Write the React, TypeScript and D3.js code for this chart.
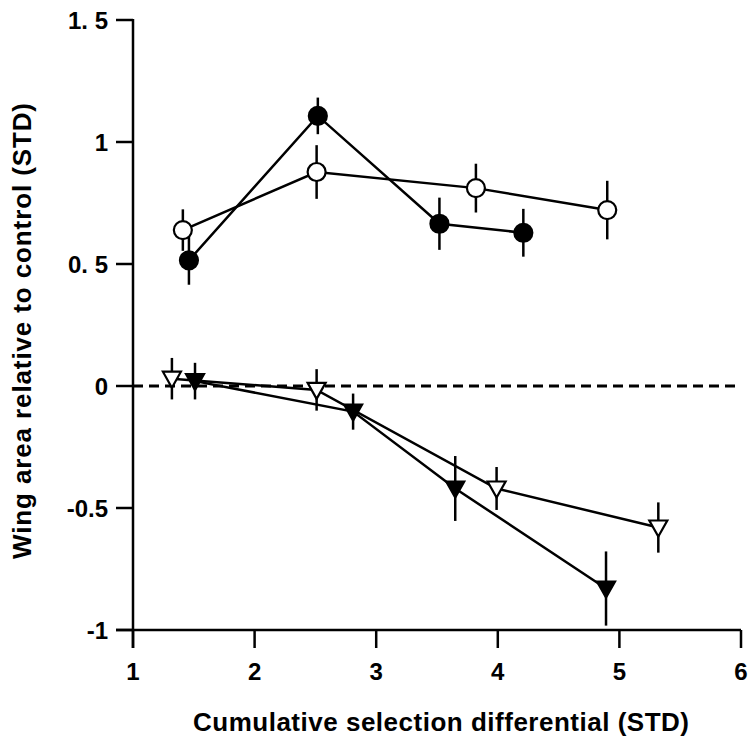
import React from "react";
import * as d3 from "d3";

const xTicks = [1, 2, 3, 4, 5, 6];
const yTicks = [-1, -0.5, 0, 0.5, 1, 1.5];
const yTickLabels = ["-1", "-0.5", "0", "0. 5", "1", "1. 5"];

// Filled circles
const filledCircleX = [1.46, 2.52, 3.52, 4.21];
const filledCircleY = [0.515, 1.107, 0.665, 0.628];
const filledCircleErr = [0.1, 0.075, 0.107, 0.098];

// Open circles
const openCircleX = [1.41, 2.51, 3.82, 4.9];
const openCircleY = [0.639, 0.877, 0.811, 0.721];
const openCircleErr = [0.085, 0.11, 0.1, 0.12];

// Filled triangles (down)
const filledTriX = [1.51, 2.81, 3.65, 4.89];
const filledTriY = [0.02, -0.105, -0.42, -0.83];
const filledTriErr = [0.075, 0.074, 0.133, 0.152];

// Open triangles (down)
const openTriX = [1.32, 2.51, 3.99, 5.32];
const openTriY = [0.03, -0.016, -0.42, -0.58];
const openTriErr = [0.085, 0.085, 0.088, 0.103];

const W = 755;
const H = 746;
const x = d3.scaleLinear().domain([1, 6]).range([133, 741]);
const y = d3.scaleLinear().domain([-1, 1.5]).range([630, 20]);

const FONT = "'Liberation Sans', Arial, Helvetica, sans-serif";

type Series = { xs: number[]; ys: number[]; errs: number[]; shape: "circle" | "tri"; filled: boolean };

const series: Series[] = [
  { xs: openTriX, ys: openTriY, errs: openTriErr, shape: "tri", filled: false },
  { xs: filledTriX, ys: filledTriY, errs: filledTriErr, shape: "tri", filled: true },
  { xs: openCircleX, ys: openCircleY, errs: openCircleErr, shape: "circle", filled: false },
  { xs: filledCircleX, ys: filledCircleY, errs: filledCircleErr, shape: "circle", filled: true },
];

const line = d3
  .line<[number, number]>()
  .x((d) => x(d[0]))
  .y((d) => y(d[1]));

function Marker({ cx, cy, shape, filled }: { cx: number; cy: number; shape: string; filled: boolean }) {
  const fill = filled ? "#000" : "#fff";
  if (shape === "circle") {
    return <circle cx={cx} cy={cy} r={9} fill={fill} stroke="#000" strokeWidth={2.2} />;
  }
  const pts = [
    [cx - 9, cy - 7],
    [cx + 9, cy - 7],
    [cx, cy + 9],
  ]
    .map((p) => p.join(","))
    .join(" ");
  return <polygon points={pts} fill={fill} stroke="#000" strokeWidth={2.2} strokeLinejoin="miter" />;
}

export default function App() {
  return (
    <svg
      width={W}
      height={H}
      style={{ position: "absolute", left: 0, top: 0, background: "#fff" }}
      fontFamily={FONT}
    >
      {/* dashed zero line */}
      <line x1={x(1)} x2={x(6)} y1={y(0)} y2={y(0)} stroke="#000" strokeWidth={3} strokeDasharray="10,6" />

      {/* axes */}
      <line x1={x(1)} x2={x(1)} y1={y(1.5) - 1} y2={648} stroke="#000" strokeWidth={2.5} />
      <line x1={116} x2={x(6)} y1={y(-1)} y2={y(-1)} stroke="#000" strokeWidth={2.5} />
      {yTicks.map((t, i) => (
        <g key={"yt" + i}>
          <line x1={116} x2={x(1)} y1={y(t)} y2={y(t)} stroke="#000" strokeWidth={2.5} />
          <text x={108} y={y(t) + 9} textAnchor="end" fontSize={24} fontWeight="bold">
            {yTickLabels[i]}
          </text>
        </g>
      ))}
      {xTicks.map((t) => (
        <g key={"xt" + t}>
          <line x1={x(t)} x2={x(t)} y1={y(-1)} y2={648} stroke="#000" strokeWidth={2.5} />
          <text x={x(t)} y={680} textAnchor="middle" fontSize={24} fontWeight="bold">
            {t}
          </text>
        </g>
      ))}
      <text
        x={441}
        y={731}
        textAnchor="middle"
        fontSize={26}
        fontWeight="bold"
        textLength={496}
        lengthAdjust="spacing"
      >
        Cumulative selection differential (STD)
      </text>
      <text
        transform={`translate(31,331) rotate(-90)`}
        textAnchor="middle"
        fontSize={26}
        fontWeight="bold"
        textLength={456}
        lengthAdjust="spacing"
      >
        Wing area relative to control (STD)
      </text>

      {/* lines */}
      {series.map((s, i) => (
        <path
          key={"l" + i}
          d={line(s.xs.map((v, j) => [v, s.ys[j]] as [number, number])) || ""}
          fill="none"
          stroke="#000"
          strokeWidth={2.5}
        />
      ))}
      {/* error bars */}
      {series.map((s, i) =>
        s.xs.map((v, j) => (
          <line
            key={"e" + i + "-" + j}
            x1={x(v)}
            x2={x(v)}
            y1={y(s.ys[j] + s.errs[j])}
            y2={y(s.ys[j] - s.errs[j])}
            stroke="#000"
            strokeWidth={2.5}
          />
        ))
      )}
      {/* markers */}
      {series.map((s, i) =>
        s.xs.map((v, j) => (
          <Marker key={"m" + i + "-" + j} cx={x(v)} cy={y(s.ys[j])} shape={s.shape} filled={s.filled} />
        ))
      )}
    </svg>
  );
}
